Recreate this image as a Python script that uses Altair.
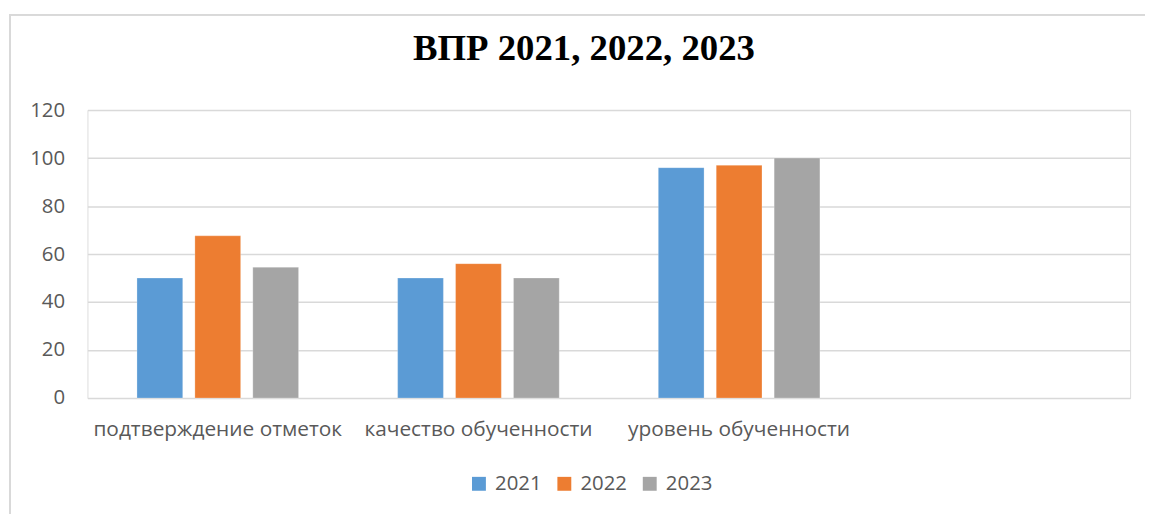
import altair as alt
import pandas as pd

categories = ["подтверждение отметок", "качество обученности", "уровень обученности"]
years = ["2021", "2022", "2023"]
v2021 = [50, 50, 96]
v2022 = [67.6, 56, 97]
v2023 = [54.5, 50, 100]
y_ticks = [0, 20, 40, 60, 80, 100, 120]
colors = ["#5B9BD5", "#ED7D31", "#A5A5A5"]

rows = []
for i, c in enumerate(categories):
    for y, vals in zip(years, [v2021, v2022, v2023]):
        rows.append({"category": c, "year": y, "value": vals[i]})
df = pd.DataFrame(rows)

font = "Open Sans"
label_color = "#595959"
grid_color = "#D9D9D9"

bars = alt.Chart(df).mark_bar(stroke="white", strokeWidth=0.5, strokeOpacity=0.5).encode(
    x=alt.X("category:N",
            scale=alt.Scale(domain=categories + [" "], paddingInner=0, paddingOuter=0),
            axis=alt.Axis(title=None, labelAngle=0, ticks=False, domain=False,
                          labelFont=font, labelFontSize=21, labelColor=label_color,
                          labelPadding=21, labelLimit=400, grid=False)),
    xOffset=alt.XOffset("year:N", scale=alt.Scale(paddingInner=0.21, paddingOuter=0.855)),
    y=alt.Y("value:Q",
            scale=alt.Scale(domain=[0, 120], nice=False),
            axis=alt.Axis(title=None, values=y_ticks, ticks=False, domain=False,
                          labelFont=font, labelFontSize=20.5, labelColor=label_color,
                          labelPadding=23, gridColor=grid_color, gridWidth=1.5)),
    color=alt.Color("year:N",
                    scale=alt.Scale(domain=years, range=colors),
                    legend=alt.Legend(title=None, orient="none", direction="horizontal",
                                      legendX=384, legendY=366,
                                      symbolType="square", symbolSize=196,
                                      symbolStrokeWidth=0, labelOffset=6,
                                      columnPadding=12, padding=0,
                                      labelFont=font, labelFontSize=20.5,
                                      labelColor=label_color)),
)

border = alt.Chart(df).mark_rect(fillOpacity=0, stroke=grid_color, strokeWidth=1.5, clip=False).encode(
    x=alt.value(-78), x2=alt.value(1100), y=alt.value(-96), y2=alt.value(450)
)

chart = alt.layer(border, bars).properties(
    width=1050,
    height=290,
    padding={"left": 80, "top": 101, "right": 15, "bottom": 115},
    autosize=alt.AutoSizeParams(type="none"),
    title=alt.TitleParams("ВПР 2021, 2022, 2023", font="Liberation Serif", fontSize=37,
                          fontWeight="bold", color="#000000", anchor="middle", dx=-25,
                          dy=54, offset=0),
).configure_view(stroke=None).configure(background="white")

chart.save("out.html", embed_options={"renderer": "svg", "actions": False})
